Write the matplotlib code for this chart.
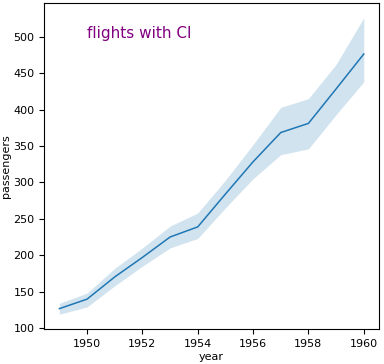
import matplotlib
matplotlib.use("Agg")
import matplotlib.pyplot as plt
import numpy as np

years = [1949, 1950, 1951, 1952, 1953, 1954, 1955, 1956, 1957, 1958, 1959, 1960]
mean_passengers = [126.7, 139.7, 170.2, 197.0, 225.0, 238.9, 284.0, 328.3, 368.4, 381.0, 428.3, 476.2]
ci_low = [119.0, 129.0, 158.0, 185.0, 210.0, 223.0, 265.0, 305.0, 338.0, 346.0, 393.0, 438.0]
ci_high = [134.0, 148.0, 182.0, 210.0, 240.0, 258.0, 303.0, 352.0, 403.0, 415.0, 462.0, 526.0]

fig = plt.figure(figsize=(3.84, 3.64), dpi=100)
ax = fig.add_subplot(1, 1, 1)
fig.subplots_adjust(left=0.115, right=0.987, top=0.992, bottom=0.096)

ax.plot(years, mean_passengers, color='#1f77b4', lw=1.1)
ax.fill_between(years, ci_low, ci_high, color='#1f77b4', alpha=0.2, lw=0)

ax.set_xticks([1950, 1952, 1954, 1956, 1958, 1960])
ax.set_xlabel('year', fontsize=8, labelpad=2)
ax.set_ylabel('passengers', fontsize=8, labelpad=2)
ax.tick_params(labelsize=8)

ax.text(1950, 498, 'flights with CI', color='purple', fontsize=11)

fig.savefig('out.png', dpi=100)
